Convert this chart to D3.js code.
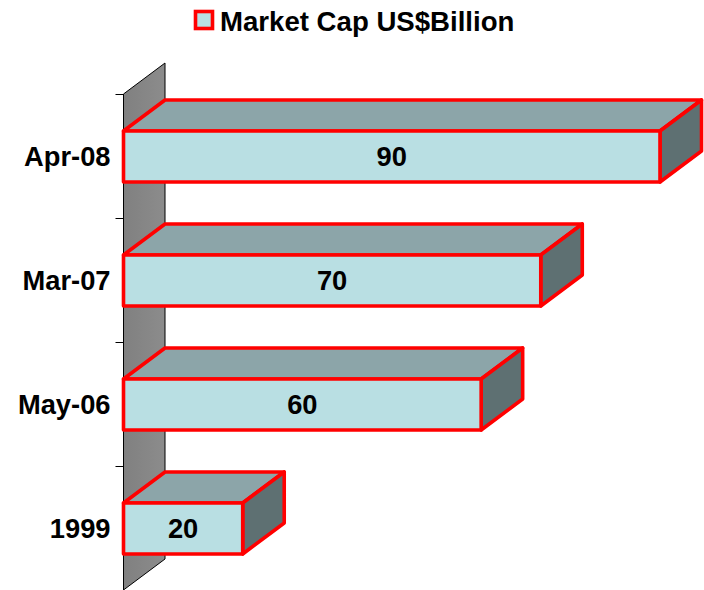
<!DOCTYPE html>
<html><head><meta charset="utf-8">
<script src="https://cdn.jsdelivr.net/npm/d3@7"></script>
<style>html,body{margin:0;padding:0;background:#fff}svg{display:block}text{font-family:"Liberation Sans",Arial,sans-serif;font-weight:bold;fill:#000}</style>
</head><body><div id="c"></div>
<script>
const categories = ["Apr-08","Mar-07","May-06","1999"];
const values = [90,70,60,20];
const seriesName = "Market Cap US$Billion";
const W=704,H=590, dx=41.5, dy=-31;
const svg=d3.select("#c").append("svg").attr("width",W).attr("height",H);
const x=d3.scaleLinear().domain([0,90]).range([123.5,660]);
const y=d3.scaleBand().domain(categories).range([94.5,590.5]).paddingInner(0.589).paddingOuter(0.2945);
const band=d3.scaleBand().domain(categories).range([94,590]);
const defs=svg.append("defs");
const g=defs.append("linearGradient").attr("id","wall").attr("x1",0).attr("x2",1).attr("y1",0).attr("y2",0);
g.append("stop").attr("offset",0).attr("stop-color","#808080");
g.append("stop").attr("offset",1).attr("stop-color","#8c8c8c");
const pts=a=>a.map(p=>p.join(",")).join(" ");
svg.append("polygon").attr("points",pts([[x(0),94],[x(0)+dx,94+dy],[x(0)+dx,H+dy],[x(0),H]]))
  .attr("fill","url(#wall)").attr("stroke","#000").attr("stroke-width",1);
const axG=svg.append("g").attr("transform",`translate(${x(0)},0)`);
band.domain().forEach(c=>{
  axG.append("line").attr("x1",-8).attr("x2",0).attr("y1",band(c)+.5).attr("y2",band(c)+.5).attr("stroke","#000");
  axG.append("text").attr("x",-13).attr("y",y(c)+y.bandwidth()/2+9).attr("text-anchor","end").attr("font-size",27.3).text(c);
});
const stroke="#ff0000",sw=3.6;
const rows=categories.map((c,i)=>({c,v:values[i]}));
const bars=svg.selectAll("g.bar").data(rows).join("g").attr("class","bar");
bars.each(function(d){
  const s=d3.select(this),x0=x(0),x1=x(d.v),t=y(d.c),b=t+y.bandwidth();
  const st=p=>p.attr("stroke",stroke).attr("stroke-width",sw).attr("stroke-linejoin","round");
  st(s.append("polygon").attr("points",pts([[x0,t],[x0+dx,t+dy],[x1+dx,t+dy],[x1,t]])).attr("fill","#8ca5a9"));
  st(s.append("polygon").attr("points",pts([[x1,t],[x1+dx,t+dy],[x1+dx,b+dy],[x1,b]])).attr("fill","#5e7072"));
  st(s.append("rect").attr("x",x0).attr("y",t).attr("width",x1-x0).attr("height",b-t).attr("fill","#b9dfe3"));
  s.append("text").attr("x",(x0+x1)/2).attr("y",(t+b)/2+9).attr("text-anchor","middle").attr("font-size",27.3).text(d.v);
});
svg.append("rect").attr("x",195.5).attr("y",11.5).attr("width",17).attr("height",17).attr("fill","#b9dfe3").attr("stroke",stroke).attr("stroke-width",3.6);
svg.append("text").attr("x",220).attr("y",31).attr("font-size",27.6).text(seriesName);
</script></body></html>
